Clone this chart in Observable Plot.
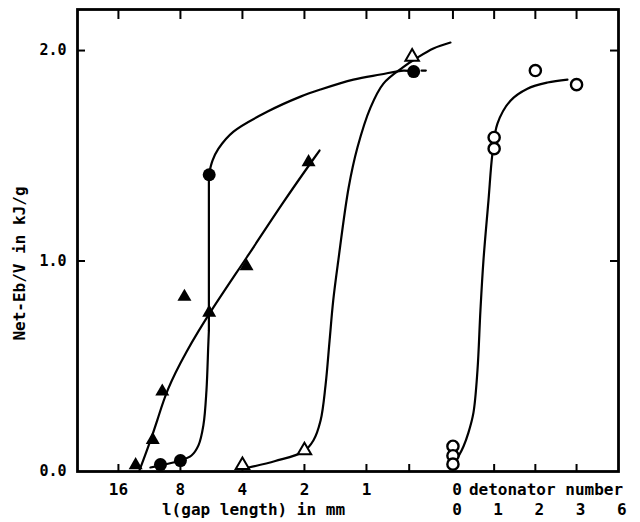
<!DOCTYPE html>
<html><head><meta charset="utf-8">
<script src="https://cdn.jsdelivr.net/npm/d3@7"></script>
<script src="https://cdn.jsdelivr.net/npm/@observablehq/plot@0.6"></script>
<style>html,body{margin:0;padding:0;background:#fff}svg{display:block}</style>
</head><body><div id="chart"></div>
<script>
// ---- axis ticks / labels ----
const yTicks = [0, 1, 2];
const yTickLabels = ["0.0", "1.0", "2.0"];
const gapTicks = [16, 8, 4, 2, 1, 0.62];           // gap length in mm (log axis, reversed)
const gapTickLabels = ["16", "8", "4", "2", "1", ""];
const detTicks = [0, 1, 2, 3];                     // detonator number
const detSlots = [0, 1, 2, 3, 4];
const detTopLabels = ["0"];
const detBottomLabels = ["0", "1", "2", "3", "6"];
const yTitle = "Net-Eb/V in kJ/g";
const xTitle = "l(gap length) in mm";
const detTitle = "detonator number";

// ---- measured points ----
const filledTriGap = [13.2, 10.9, 9.8, 7.65, 5.8, 3.82, 1.91];
const filledTriVal = [0.03, 0.15, 0.38, 0.83, 0.755, 0.975, 1.47];
const filledCirGap = [10.0, 8.0, 5.8, 0.59];
const filledCirVal = [0.033, 0.052, 1.41, 1.90];
const openTriGap = [4.0, 2.0, 0.60];
const openTriVal = [0.03, 0.10, 1.97];
const openCirDet = [0, 0, 0, 1, 1, 2, 3];
const openCirVal = [0.12, 0.075, 0.035, 1.587, 1.534, 1.905, 1.838];

// ---- fitted curves ----
const filledTriCurveGap = [12.65, 11.44, 10.35, 9.36, 7.56, 5.78, 3.78, 2.53, 1.69];
const filledTriCurveVal = [0.005, 0.119, 0.242, 0.385, 0.565, 0.755, 1.021, 1.283, 1.525];
const filledCirLowGap = [11.19, 10.0, 8.0, 7.07, 6.54, 6.19, 5.98, 5.86, 5.82];
const filledCirLowVal = [0.019, 0.029, 0.052, 0.076, 0.124, 0.219, 0.385, 0.60, 0.67];
const filledCirJumpGap = [5.82, 5.82];
const filledCirJumpVal = [0.67, 1.411];
const filledCirArcGap = [5.82, 5.59, 5.23, 4.42, 3.02, 2.09, 1.67, 1.157, 0.855, 0.661, 0.591];
const filledCirArcVal = [1.411, 1.477, 1.534, 1.615, 1.710, 1.781, 1.815, 1.862, 1.886, 1.905, 1.900];
const filledCirDashGap = [0.54, 0.515];
const filledCirDashVal = [1.905, 1.905];
const openTriCurveGap = [3.74, 2.77, 2.02, 1.81, 1.67, 1.58, 1.51, 1.45, 1.37, 1.22, 1.106, 0.956, 0.827, 0.668, 0.565, 0.473, 0.391];
const openTriCurveVal = [0.019, 0.05, 0.095, 0.147, 0.242, 0.409, 0.622, 0.812, 1.002, 1.349, 1.539, 1.729, 1.843, 1.919, 1.967, 2.010, 2.038];
const openCirCurveDet = [0.133, 0.255, 0.376, 0.498, 0.595, 0.667, 0.740, 0.862, 0.959, 1.080, 1.396, 1.808, 2.294, 2.779];
const openCirCurveVal = [0.071, 0.119, 0.185, 0.280, 0.480, 0.765, 1.002, 1.287, 1.511, 1.653, 1.762, 1.819, 1.848, 1.862];

// ---- broken x axis: log2 gap length (reversed) then detonator number ----
const DET0 = 1.395, DET_STEP = 0.6645;
const gapPos = g => -Math.log2(g);
const detPos = n => DET0 + DET_STEP * n;
const xDomain = [-4.66, 4.065];
const yDomain = [0, 2.195];

const pts = (xs, vs, f) => xs.map((x, i) => ({x: f(x), v: vs[i]}));

const fTri = pts(filledTriGap, filledTriVal, gapPos);
const fCir = pts(filledCirGap, filledCirVal, gapPos);
const oTri = pts(openTriGap, openTriVal, gapPos);
const oCir = pts(openCirDet, openCirVal, detPos);
const fTriC = pts(filledTriCurveGap, filledTriCurveVal, gapPos);
const fCirL = pts(filledCirLowGap, filledCirLowVal, gapPos);
const fCirJ = pts(filledCirJumpGap, filledCirJumpVal, gapPos);
const fCirA = pts(filledCirArcGap, filledCirArcVal, gapPos);
const fCirD = pts(filledCirDashGap, filledCirDashVal, gapPos);
const oTriC = pts(openTriCurveGap, openTriCurveVal, gapPos);
const oCirC = pts(openCirCurveDet, openCirCurveVal, detPos);

const tickPos = gapTicks.map(gapPos).concat(detTicks.map(detPos));
const FONT = "DejaVu Sans Mono";
const LW = 2.2;
const txt = {fontSize: 16, fontWeight: "bold", fill: "#000", lineAnchor: "middle"};

const chart = Plot.plot({
  width: 640, height: 522,
  marginLeft: 77, marginRight: 22, marginTop: 9, marginBottom: 51,
  x: {domain: xDomain, axis: null},
  y: {domain: yDomain, axis: null},
  style: {fontFamily: FONT, background: "#fff", color: "#000"},
  marks: [
    // inward ticks
    Plot.tickX(tickPos, {x: d => d, insetTop: 455, stroke: "#000", strokeWidth: 2}),
    Plot.tickX(tickPos, {x: d => d, insetBottom: 452, stroke: "#000", strokeWidth: 2}),
    Plot.tickY([1, 2], {y: d => d, insetRight: 533, stroke: "#000", strokeWidth: 2}),
    Plot.tickY([1, 2], {y: d => d, insetLeft: 533, stroke: "#000", strokeWidth: 2}),
    Plot.frame({stroke: "#000", strokeWidth: 2.8}),
    // curves
    Plot.line(fTriC, {x: "x", y: "v", curve: "basis", stroke: "#000", strokeWidth: LW}),
    Plot.line(fCirL, {x: "x", y: "v", curve: "catmull-rom", stroke: "#000", strokeWidth: LW}),
    Plot.line(fCirJ, {x: "x", y: "v", stroke: "#000", strokeWidth: LW}),
    Plot.line(fCirA, {x: "x", y: "v", curve: "catmull-rom", stroke: "#000", strokeWidth: LW}),
    Plot.line(fCirD, {x: "x", y: "v", stroke: "#000", strokeWidth: LW}),
    Plot.line(oTriC, {x: "x", y: "v", curve: "catmull-rom", stroke: "#000", strokeWidth: LW}),
    Plot.line(oCirC, {x: "x", y: "v", curve: "catmull-rom", stroke: "#000", strokeWidth: LW}),
    // points
    Plot.dot(fTri, {x: "x", y: "v", symbol: "triangle", r: 5.2, fill: "#000", stroke: "none"}),
    Plot.dot(fCir, {x: "x", y: "v", symbol: "circle", r: 6.5, fill: "#000", stroke: "none"}),
    Plot.dot(oTri, {x: "x", y: "v", symbol: "triangle", r: 5, fill: "#fff", stroke: "#000", strokeWidth: 2}),
    Plot.dot(oCir, {x: "x", y: "v", symbol: "circle", r: 5.6, fill: "#fff", stroke: "#000", strokeWidth: 2.4}),
    // y tick labels
    Plot.text(yTicks, {y: d => d, text: (d, i) => yTickLabels[i], frameAnchor: "left", dx: -11, textAnchor: "end", ...txt, fontSize: 15}),
    // y title
    Plot.text([yTitle], {text: d => d, frameAnchor: "left", dx: -58, dy: 23, rotate: -90, textAnchor: "middle", ...txt, letterSpacing: "0.6px"}),
    // x tick labels (gap length)
    Plot.text(gapTicks, {x: gapPos, text: (d, i) => gapTickLabels[i], frameAnchor: "bottom", dy: 18, textAnchor: "middle", ...txt}),
    // detonator labels
    Plot.text(detTopLabels, {x: (d, i) => detPos(detSlots[i]), text: d => d, frameAnchor: "bottom", dx: 4, dy: 18, textAnchor: "middle", ...txt}),
    Plot.text([detTitle], {x: () => detPos(0), text: d => d, frameAnchor: "bottom", dx: 16, dy: 18, textAnchor: "start", ...txt, letterSpacing: "0.6px"}),
    Plot.text(detBottomLabels, {x: (d, i) => detPos(detSlots[i]), text: d => d, frameAnchor: "bottom", dx: 4, dy: 38, textAnchor: "middle", ...txt}),
    // x title
    Plot.text([xTitle], {frameAnchor: "bottom-left", text: d => d, dx: 176, dy: 38, textAnchor: "middle", ...txt, letterSpacing: "0.6px"})
  ]
});
document.getElementById("chart").appendChild(chart);
</script>
</body></html>
